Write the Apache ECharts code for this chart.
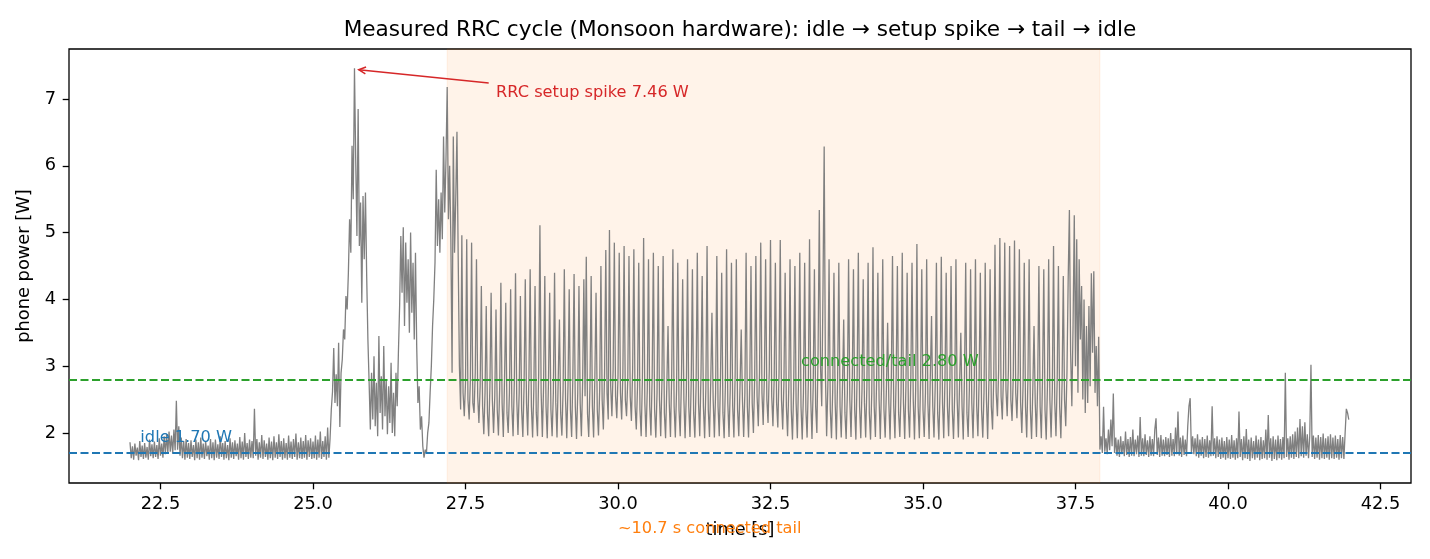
<!DOCTYPE html>
<html>
<head>
<meta charset="utf-8">
<script src="https://cdn.jsdelivr.net/npm/echarts@6/dist/echarts.min.js"></script>
<style>html,body{margin:0;padding:0;background:#fff}#c{width:1430px;height:559px}</style>
</head>
<body>
<div id="c"></div>
<script>
// ---- sample clock of the Monsoon trace ----
const T0 = 22.0;      // first sample [s]
const DT = 0.02;      // sample spacing [s]

// ---- phone power [W] ----
// idle before the transfer: 22.00 .. 25.28 s
const idleBefore = [
1.86,1.62,1.80,1.60,1.84,1.66,1.78,1.59,1.88,1.64,
1.81,1.61,1.85,1.63,1.79,1.60,1.90,1.65,1.83,1.62,
1.87,1.64,1.82,1.61,1.92,1.66,1.84,1.63,1.95,1.68,
1.98,1.70,2.02,1.72,1.96,1.69,2.05,1.74,2.48,1.75,
2.10,1.66,1.93,1.62,1.88,1.60,1.91,1.63,1.85,1.61,
1.89,1.64,1.82,1.59,1.90,1.62,1.86,1.60,1.93,1.63,
1.84,1.61,1.88,1.65,1.81,1.60,1.91,1.62,1.86,1.59,
1.90,1.63,1.83,1.61,1.95,1.64,1.85,1.60,1.88,1.62,
1.82,1.59,1.92,1.63,1.86,1.61,1.89,1.65,1.84,1.60,
1.94,1.62,1.87,1.60,2.00,1.64,1.85,1.61,1.90,1.63,
1.88,1.62,2.36,1.66,1.91,1.60,1.86,1.63,1.97,1.61,
1.89,1.64,1.84,1.60,1.93,1.62,1.87,1.59,1.95,1.63,
1.86,1.61,1.98,1.64,1.88,1.60,1.92,1.62,1.85,1.60,
1.96,1.63,1.87,1.61,1.91,1.64,1.99,1.60,1.86,1.62,
1.93,1.61,1.88,1.63,1.97,1.60,1.89,1.64,1.92,1.61,
1.87,1.62,1.96,1.60,1.90,1.63,2.02,1.61,1.88,1.64,
1.95,1.60,2.08,1.63,1.92
];
// RRC setup: 25.30 .. 27.18 s
const setupSpike = [
2.35,2.62,3.27,2.45,2.88,2.40,3.35,2.09,2.90,3.10,
3.55,3.40,4.05,3.85,4.40,5.20,4.70,6.30,5.50,7.46,
6.10,4.95,6.85,4.80,5.45,3.95,5.55,4.60,5.60,4.35,
3.40,2.75,2.05,2.90,2.20,3.15,2.10,2.75,1.95,3.45,
2.30,2.85,2.05,3.30,2.25,2.80,1.98,2.70,2.15,3.05,
2.00,2.60,1.95,2.90,2.40,3.20,3.90,4.95,4.10,5.08,
3.60,4.85,3.95,4.60,3.50,5.00,3.80,4.55,3.40,4.70,
3.30,2.45,2.70,2.05,2.25,1.80,1.63,1.75,1.70,2.00,
2.15,2.60,3.00,3.60,4.00,4.55,5.94,4.80,5.50,4.70,
5.60,4.90,6.44,5.30,6.10
];
// connected / tail: 27.20 .. 37.88 s
const connectedTail = [
7.18,5.20,6.00,4.90,2.90,6.44,4.70,5.50,6.51,4.64,
3.00,2.35,4.96,2.60,2.25,2.75,4.90,2.50,2.20,2.80,
4.85,2.45,2.30,2.90,4.60,2.55,2.15,2.70,4.20,2.40,
1.98,2.60,3.90,2.30,1.95,2.70,4.10,2.50,2.00,2.55,
3.85,2.35,1.96,2.65,4.25,2.45,1.94,2.80,3.95,2.30,
2.00,2.60,4.15,2.40,1.95,2.75,4.39,2.50,1.97,2.60,
4.05,2.35,1.94,2.70,4.30,2.45,1.96,2.85,4.45,2.40,
1.93,2.65,4.20,2.30,1.95,2.90,5.11,2.60,1.94,2.70,
4.35,2.40,1.92,2.75,4.10,2.35,1.95,2.60,4.40,2.45,
1.93,2.80,3.70,2.30,1.96,2.65,4.45,2.50,1.92,2.70,
4.15,2.35,1.94,2.85,4.38,2.40,1.91,2.60,4.20,2.45,
1.95,2.75,4.30,2.55,4.64,2.30,1.94,2.70,4.35,2.40,
1.93,2.80,4.10,2.35,1.96,2.65,4.50,2.50,2.05,2.90,
4.74,2.60,2.20,5.04,2.70,2.25,2.95,4.85,2.55,2.22,
2.85,4.70,2.60,2.20,2.90,4.80,2.50,2.25,2.80,4.65,
2.55,2.18,2.95,4.75,2.40,2.05,2.70,4.55,2.35,1.95,
2.80,4.92,2.45,1.94,2.65,4.60,2.40,1.96,2.85,4.70,
2.35,1.93,2.60,4.50,2.50,1.95,2.75,4.65,2.30,1.92,
2.70,3.60,2.45,1.94,2.85,4.75,2.40,1.93,2.65,4.55,
2.35,1.95,2.80,4.30,2.50,1.92,2.60,4.60,2.40,1.94,
2.75,4.45,2.30,1.93,2.70,4.70,2.45,1.95,2.85,4.35,
2.40,1.92,2.65,4.80,2.35,1.94,2.75,3.80,2.50,1.93,
2.60,4.65,2.40,1.95,2.80,4.40,2.30,1.92,2.70,4.75,
2.45,1.94,2.65,4.55,2.40,1.93,2.85,4.60,2.35,1.95,
2.70,3.55,2.50,1.94,2.60,4.70,2.40,1.93,2.75,4.50,
2.45,2.00,2.80,4.65,2.55,2.10,2.90,4.85,2.60,2.12,
2.85,4.60,2.50,2.15,2.95,4.89,2.55,2.10,2.80,4.55,
2.45,2.08,2.90,4.89,2.50,2.05,2.75,4.40,2.40,1.95,
2.70,4.60,2.35,1.90,2.65,4.50,2.45,1.92,2.80,4.70,
2.40,1.90,2.60,4.55,2.35,1.93,2.75,4.90,2.50,1.91,
2.70,4.45,2.40,2.00,3.20,5.34,3.00,2.40,4.10,6.29,
2.90,1.95,2.70,4.60,2.35,1.92,2.65,4.40,2.45,1.90,
2.80,4.55,2.40,1.93,2.70,3.70,2.30,1.91,2.60,4.60,
2.50,1.94,2.75,4.45,2.35,1.90,2.85,4.70,2.40,1.92,
2.65,4.30,2.45,1.93,2.70,4.55,2.30,1.90,2.60,4.78,
2.40,1.94,2.80,4.40,2.50,1.91,2.70,4.60,2.35,1.93,
2.65,3.65,2.45,1.90,2.75,4.65,2.40,1.92,2.85,4.50,
2.30,1.94,2.60,4.70,2.45,1.91,2.70,4.40,2.35,1.93,
2.80,4.55,2.50,1.90,2.65,4.83,2.40,1.92,2.75,4.45,
2.35,1.94,2.60,4.60,2.45,1.91,2.85,3.75,2.40,1.93,
2.70,4.55,2.30,1.90,2.65,4.64,2.45,1.92,2.80,4.40,
2.40,1.95,2.70,4.50,2.35,1.91,2.60,4.60,2.50,1.93,
2.75,3.50,2.40,1.90,2.85,4.55,2.30,1.94,2.65,4.45,
2.45,1.92,2.70,4.60,2.40,1.95,2.80,4.40,2.35,1.93,
2.60,4.55,2.50,1.91,2.75,4.45,2.40,2.05,2.85,4.82,
2.60,2.25,2.95,4.92,2.55,2.20,2.90,4.85,2.65,2.25,
2.95,4.80,2.50,2.18,2.85,4.88,2.60,2.22,2.90,4.75,
2.45,2.00,2.70,4.55,2.40,1.93,2.80,4.60,2.35,1.91,
2.65,3.60,2.45,1.94,2.75,4.50,2.40,1.92,2.85,4.45,
2.35,1.90,2.70,4.60,2.50,1.93,2.65,4.80,2.45,1.95,
2.80,4.50,2.40,1.92,2.75,4.35,2.50,2.10,2.90,4.30,
5.34,3.20,2.40,3.60,5.26,3.00,4.90,2.60,4.60,3.40,
4.20,2.50,4.00,2.30,3.60,2.45,3.90,2.70,4.39,3.20,
4.42,2.60,3.30,2.40,3.44
];
// back to idle: 37.90 .. 41.98 s
const idleAfter = [
1.75,1.95,1.70,2.39,1.72,1.92,1.68,2.05,1.74,2.20,
1.80,2.59,1.70,1.93,1.66,1.90,1.64,1.95,1.68,1.88,
1.65,2.02,1.67,1.91,1.64,1.94,1.66,2.05,1.65,1.90,
1.68,1.96,1.64,2.24,1.66,1.92,1.65,1.98,1.67,1.89,
1.64,1.95,1.66,1.91,1.65,2.05,2.22,1.67,1.93,1.64,
1.97,1.66,1.90,1.65,1.94,1.67,1.92,1.64,2.00,1.66,
1.91,1.65,2.08,1.68,2.32,1.66,1.93,1.64,1.96,1.67,
1.90,1.65,2.10,2.40,2.52,1.70,1.95,1.68,1.92,1.65,
1.98,1.63,1.90,1.66,1.94,1.62,1.91,1.64,1.96,1.63,
1.89,1.65,2.40,1.66,1.92,1.62,1.95,1.64,1.90,1.61,
1.93,1.63,1.88,1.60,1.94,1.62,1.90,1.61,1.97,1.63,
1.89,1.60,1.92,1.62,2.32,1.64,1.91,1.59,1.95,1.62,
2.06,1.61,1.90,1.58,1.93,1.62,1.88,1.60,1.96,1.63,
1.90,1.59,1.94,1.61,1.89,1.62,2.05,1.60,2.27,1.63,
1.92,1.58,1.95,1.61,1.90,1.59,1.96,1.62,1.91,1.60,
1.94,1.62,2.90,1.64,1.92,1.60,1.95,1.63,1.98,1.61,
2.02,1.64,2.08,1.62,2.21,1.65,2.10,1.63,2.16,1.66,
1.98,1.62,1.95,3.02,1.64,1.96,1.61,1.93,1.63,1.97,
1.60,1.94,1.62,1.99,1.61,1.92,1.63,1.95,1.60,1.98,
1.62,1.93,1.61,1.96,1.63,1.91,1.60,1.97,1.62,1.94,
1.61,2.00,2.36,2.30,2.20
];

// ---- reference levels and annotations ----
const idleLevel = 1.70;
const tailLevel = 2.80;
const tailSpan = [27.2, 37.9];
const spikePeak = [25.68, 7.46];
const xTicks = [22.5, 25.0, 27.5, 30.0, 32.5, 35.0, 37.5, 40.0, 42.5];
const yTicks = [2, 3, 4, 5, 6, 7];

const powerW = idleBefore.concat(setupSpike, connectedTail, idleAfter);
const trace = powerW.map((w, i) => [+(T0 + i * DT).toFixed(2), w]);

const FONT = 'DejaVu Sans';
const chart = echarts.init(document.getElementById('c'), null, {renderer: 'canvas'});

chart.setOption({
  animation: false,
  backgroundColor: '#ffffff',
  title: {
    text: 'Measured RRC cycle (Monsoon hardware): idle \u2192 setup spike \u2192 tail \u2192 idle',
    left: 740, top: 19, textAlign: 'center', padding: 0,
    textStyle: {fontFamily: FONT, fontSize: 21.6, fontWeight: 'normal', color: '#000'}
  },
  grid: {left: 69, right: 19, top: 49, bottom: 76, show: true, borderColor: '#000', borderWidth: 1.3, backgroundColor: 'transparent'},
  xAxis: {
    type: 'value', min: 21, max: 43,
    name: 'time [s]', nameLocation: 'middle', nameGap: 38,
    nameTextStyle: {fontFamily: FONT, fontSize: 17.8, color: '#000'},
    axisLine: {show: false},
    axisTick: {show: true, length: 6.3, lineStyle: {color: '#000', width: 1.3}, customValues: xTicks},
    axisLabel: {fontFamily: FONT, fontSize: 17.8, color: '#000', margin: 12, customValues: xTicks,
      formatter: v => Number(v).toFixed(1)},
    splitLine: {show: false}
  },
  yAxis: {
    type: 'value', min: 1.25, max: 7.75,
    name: 'phone power [W]', nameLocation: 'middle', nameGap: 31, nameRotate: 90,
    nameTextStyle: {fontFamily: FONT, fontSize: 17.8, color: '#000'},
    axisLine: {show: false},
    axisTick: {show: true, length: 6.3, lineStyle: {color: '#000', width: 1.3}, customValues: yTicks},
    axisLabel: {fontFamily: FONT, fontSize: 17.8, color: '#000', margin: 13, customValues: yTicks,
      formatter: v => String(Math.round(v))},
    splitLine: {show: false}
  },
  series: [{
    type: 'line',
    data: trace,
    showSymbol: false,
    symbol: 'none',
    lineStyle: {color: '#808080', width: 1.3},
    itemStyle: {color: '#808080'},
    silent: true,
    z: 2,
    markArea: {
      silent: true,
      itemStyle: {color: 'rgba(255,127,14,0.09)', borderColor: 'rgba(255,127,14,0.09)', borderWidth: 1},
      data: [[{xAxis: tailSpan[0]}, {xAxis: tailSpan[1]}]]
    },
    markLine: {
      silent: true,
      symbol: ['none', 'none'],
      label: {show: false},
      animation: false,
      data: [
        {yAxis: idleLevel, lineStyle: {color: '#1f77b4', width: 2, type: [8, 3.5]}},
        {yAxis: tailLevel, lineStyle: {color: '#2ca02c', width: 2, type: [8, 3.5]}}
      ]
    }
  }]
});

function px(x, y) { return chart.convertToPixel({xAxisIndex: 0, yAxisIndex: 0}, [x, y]); }

const pIdle = px(22.17, 1.93);
const pTail = px(33.0, 3.07);
const pSpikeTxt = px(28.0, 7.09);
const pSpan = px(30.0, 0.56);
const aStart = px(27.88, 7.24);
const aEnd = px(spikePeak[0] + 0.07, 7.44);
const dx = aEnd[0] - aStart[0], dy = aEnd[1] - aStart[1];
const len = Math.hypot(dx, dy);
const ux = dx / len, uy = dy / len, nx = -uy, ny = ux;
const HL = 7, HW = 3.4;
const AFONT = '16.2px "DejaVu Sans"';

chart.setOption({
  graphic: [
    {type: 'text', silent: true, z: 10, style: {text: 'idle 1.70 W', x: pIdle[0], y: pIdle[1], fill: '#1f77b4',
      font: AFONT, textAlign: 'left', textVerticalAlign: 'middle'}},
    {type: 'text', silent: true, z: 10, style: {text: 'connected/tail 2.80 W', x: pTail[0], y: pTail[1], fill: '#2ca02c',
      font: AFONT, textAlign: 'left', textVerticalAlign: 'middle'}},
    {type: 'text', silent: true, z: 10, style: {text: 'RRC setup spike 7.46 W', x: pSpikeTxt[0], y: pSpikeTxt[1], fill: '#d62728',
      font: AFONT, textAlign: 'left', textVerticalAlign: 'middle'}},
    {type: 'text', silent: true, z: 10, style: {text: '~10.7 s connected tail', x: pSpan[0], y: pSpan[1], fill: '#ff7f0e',
      font: AFONT, textAlign: 'left', textVerticalAlign: 'middle'}},
    {type: 'line', silent: true, z: 10, shape: {x1: aStart[0], y1: aStart[1], x2: aEnd[0], y2: aEnd[1]},
      style: {stroke: '#d62728', lineWidth: 1.5}},
    {type: 'polyline', silent: true, z: 10, shape: {points: [
      [aEnd[0] - ux * HL + nx * HW, aEnd[1] - uy * HL + ny * HW],
      [aEnd[0], aEnd[1]],
      [aEnd[0] - ux * HL - nx * HW, aEnd[1] - uy * HL - ny * HW]
    ]}, style: {stroke: '#d62728', lineWidth: 1.5, fill: null}}
  ]
});
</script>
</body>
</html>
